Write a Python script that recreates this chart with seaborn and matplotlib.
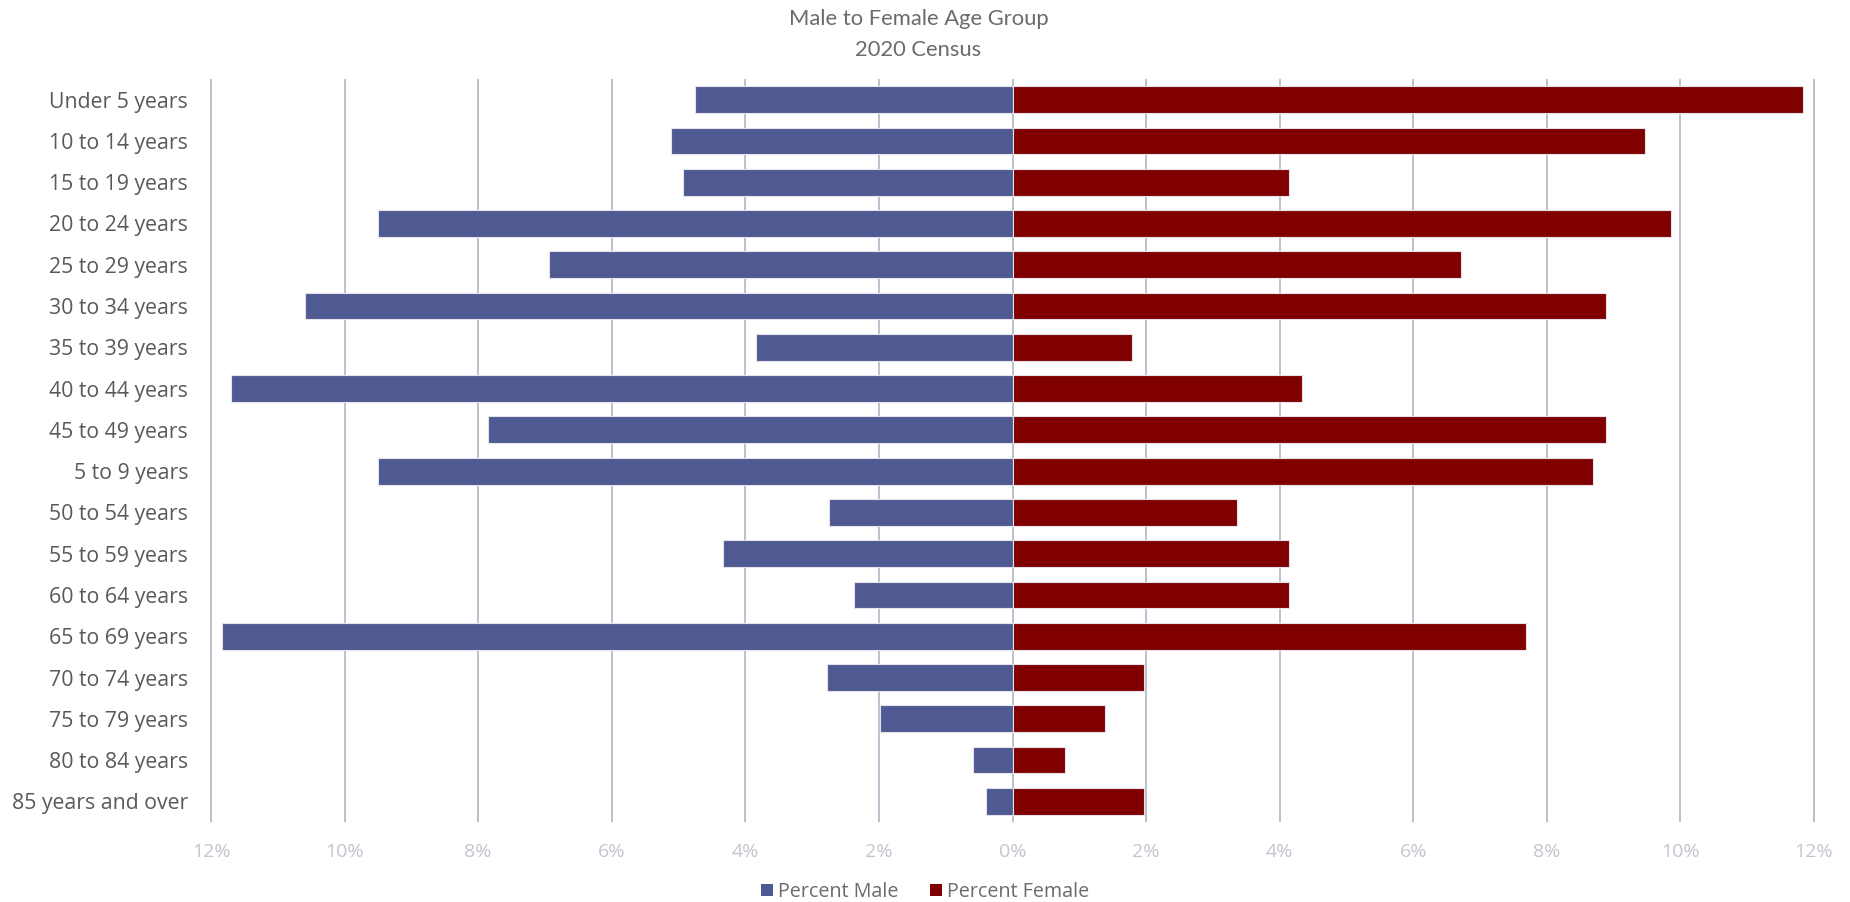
import matplotlib
matplotlib.use("Agg")
import matplotlib.pyplot as plt
from matplotlib.ticker import FuncFormatter, MultipleLocator
from matplotlib.patches import Patch
import seaborn as sns
import pandas as pd

age_groups = [
    "Under 5 years", "10 to 14 years", "15 to 19 years", "20 to 24 years",
    "25 to 29 years", "30 to 34 years", "35 to 39 years", "40 to 44 years",
    "45 to 49 years", "5 to 9 years", "50 to 54 years", "55 to 59 years",
    "60 to 64 years", "65 to 69 years", "70 to 74 years", "75 to 79 years",
    "80 to 84 years", "85 years and over",
]
percent_male = [4.76, 5.12, 4.94, 9.50, 6.94, 10.60, 3.84, 11.70, 7.85, 9.50,
                2.74, 4.34, 2.37, 11.83, 2.77, 1.98, 0.59, 0.40]
percent_female = [11.84, 9.47, 4.14, 9.86, 6.71, 8.88, 1.79, 4.34, 8.88, 8.69,
                  3.36, 4.14, 4.14, 7.69, 1.97, 1.38, 0.79, 1.97]
series_names = ["Percent Male", "Percent Female"]
series_colors = ["#4F5A92", "#800000"]

df = pd.DataFrame({
    "age": age_groups * 2,
    "value": [-v for v in percent_male] + percent_female,
    "series": [series_names[0]] * len(age_groups) + [series_names[1]] * len(age_groups),
})

sns.set_theme(style="white")
plt.rcParams["font.family"] = ["Open Sans", "DejaVu Sans"]

fig = plt.figure(figsize=(18.5, 9.02), dpi=100)
ax = fig.add_axes([209 / 1850, 1 - 822 / 902, (1816 - 209) / 1850, (822 - 79) / 902])

sns.barplot(
    data=df, x="value", y="age", hue="series", order=age_groups,
    hue_order=series_names, palette=series_colors, saturation=1, dodge=False,
    orient="h", width=0.65, edgecolor="#E4E2EA", linewidth=0.8,
    legend=False, ax=ax, zorder=3,
)

ax.set_xlim(-12.03, 12.03)
ax.set_ylim(len(age_groups) - 0.5, -0.5)
ax.xaxis.set_major_locator(MultipleLocator(2))
ax.xaxis.set_major_formatter(FuncFormatter(lambda v, _: f"{abs(v):.0f}%"))
ax.xaxis.grid(True, color="#BDC0CC", linewidth=1.4, zorder=0)
ax.yaxis.grid(False)
for s in ax.spines.values():
    s.set_visible(False)
ax.set_xlabel("")
ax.set_ylabel("")
ax.tick_params(axis="x", length=0, pad=15, labelsize=14, labelcolor="#C3C5D0")
ax.tick_params(axis="y", length=0, pad=15, labelsize=15.3, labelcolor="#595959")

fig.text(0.4965, 1 - 19 / 902, "Male to Female Age Group", ha="center", va="center",
         fontsize=15.8, color="#6B6B6B", family=["Lato", "DejaVu Sans"])
fig.text(0.4965, 1 - 50 / 902, "2020 Census", ha="center", va="center",
         fontsize=15.8, color="#6B6B6B", family=["Lato", "DejaVu Sans"])

handles = [Patch(facecolor=c, edgecolor="none") for c in series_colors]
fig.legend(handles, series_names, loc="center", bbox_to_anchor=(0.5, 1 - 892 / 902),
           ncol=2, frameon=False, fontsize=14.2, labelcolor="#6B6B6B",
           handlelength=0.6, handleheight=0.6, handletextpad=0.25, columnspacing=1.6)

fig.savefig("out.png", dpi=100)
